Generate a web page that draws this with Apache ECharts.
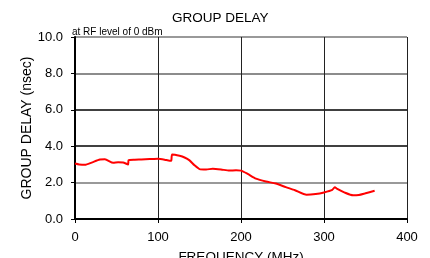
<!DOCTYPE html>
<html>
<head>
<meta charset="utf-8">
<script src="https://cdn.jsdelivr.net/npm/echarts@6/dist/echarts.min.js"></script>
<style>
  html, body { margin: 0; padding: 0; background: #fff; }
  #chart { width: 430px; height: 258px; }
</style>
</head>
<body>
<div id="chart"></div>
<script>
const freqMHz = [0, 5, 12, 20, 30, 36, 46, 52, 58, 64, 64.5, 72, 80, 90, 100, 108, 114, 116, 117,
  126, 132, 138, 144, 150, 158, 166, 176, 186, 194, 200, 208, 218, 230, 242, 254, 265,
  279, 290, 300, 310, 313, 316, 325, 335, 342, 349, 361]
const delayNs = [3.05, 3.0, 2.98, 3.1, 3.27, 3.28, 3.09, 3.12, 3.1, 3.0, 3.23, 3.26, 3.27, 3.29, 3.31, 3.26, 3.2, 3.2, 3.54,
  3.47, 3.38, 3.22, 2.95, 2.74, 2.72, 2.76, 2.72, 2.66, 2.68, 2.66, 2.48, 2.22, 2.06, 1.95, 1.75, 1.58,
  1.33, 1.37, 1.46, 1.6, 1.75, 1.65, 1.45, 1.3, 1.32, 1.4, 1.55]

const font = 'Liberation Sans, Arial, sans-serif'
const points = freqMHz.map((f, i) => [f, delayNs[i]])

const chart = echarts.init(document.getElementById('chart'))
chart.setOption({
  animation: false,
  title: [
    { text: 'GROUP DELAY', left: 172, top: 11, padding: 0,
      textStyle: { fontFamily: font, fontSize: 13.5, fontWeight: 'normal', color: '#000' } },
    { text: 'at RF level of 0 dBm', left: 72, top: 27, padding: 0,
      textStyle: { fontFamily: font, fontSize: 10, fontWeight: 'normal', color: '#000' } }
  ],
  grid: { left: 75, right: 23, top: 37, height: 182, outerBoundsMode: 'none' },
  xAxis: {
    type: 'value', min: 0, max: 400, interval: 100,
    name: 'FREQUENCY (MHz)', nameLocation: 'middle', nameGap: 31, nameMoveOverlap: false,
    nameTextStyle: { fontFamily: font, fontSize: 13.5, color: '#000' },
    axisLine: { lineStyle: { color: '#000', width: 2 } },
    axisTick: { length: 4, lineStyle: { color: '#000' } },
    axisLabel: { fontFamily: font, fontSize: 13, color: '#000', margin: 12 },
    splitLine: { lineStyle: { color: '#222', width: 1 } }
  },
  yAxis: {
    type: 'value', min: 0, max: 10, interval: 2,
    name: 'GROUP DELAY (nsec)', nameLocation: 'middle', nameGap: 41, nameRotate: 90,
    nameMoveOverlap: false,
    nameTextStyle: { fontFamily: font, fontSize: 14, color: '#000' },
    axisLine: { show: true, lineStyle: { color: '#000', width: 2 } },
    axisTick: { show: true, length: 4, lineStyle: { color: '#000' } },
    axisLabel: { fontFamily: font, fontSize: 13, color: '#000', margin: 12,
      formatter: v => v.toFixed(1) },
    splitLine: { lineStyle: { color: ['#000', '#777', '#000', '#000', '#666', '#777'], width: 1.5 } }
  },
  series: [{
    type: 'line', data: points, showSymbol: false, smooth: 0.2,
    lineStyle: { color: '#ff0000', width: 2 }
  }]
})
</script>
</body>
</html>
